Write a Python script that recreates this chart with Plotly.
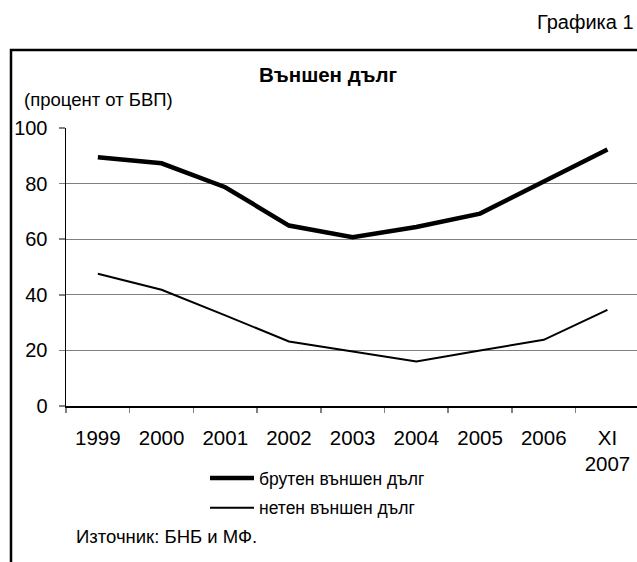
import plotly.graph_objects as go

# ---- data ----
categories = ["1999", "2000", "2001", "2002", "2003", "2004", "2005", "2006", "XI<br>2007"]
gross_debt = [89.5, 87.3, 78.7, 64.9, 60.7, 64.4, 69.2, 80.9, 92.3]
net_debt = [47.6, 41.8, 32.6, 23.2, 19.6, 16.0, 20.0, 23.8, 34.6]
series_names = ["брутен външен дълг", "нетен външен дълг"]
y_ticks = [0, 20, 40, 60, 80, 100]

# ---- layout geometry (pixels) ----
W, H = 637, 562
L, R, T, B = 66, 0, 128, 156
PW, PH = W - L - R, H - T - B
FONT = "Liberation Sans, Arial, sans-serif"


def px_x(px):
    return (px - L) / PW


def px_y(py):
    return (H - B - py) / PH


fig = go.Figure()
fig.add_trace(go.Scatter(x=categories, y=gross_debt, mode="lines", name=series_names[0],
                         legendgroup="g1", line=dict(color="black", width=4.5)))
fig.add_trace(go.Scatter(x=categories, y=net_debt, mode="lines", name=series_names[1],
                         legendgroup="g2", line=dict(color="black", width=2)))

fig.update_layout(
    width=W, height=H,
    margin=dict(l=L, r=R, t=T, b=B, autoexpand=False),
    paper_bgcolor="white", plot_bgcolor="white",
    font=dict(family=FONT, color="black"),
    showlegend=True,
    legend=dict(x=px_x(205), y=px_y(460), xanchor="left", yanchor="top",
                font=dict(size=17.5, family=FONT), bgcolor="rgba(0,0,0,0)",
                itemwidth=44, tracegroupgap=4),
)

fig.update_xaxes(
    type="category", range=[-0.5, 8.464], tickson="boundaries",
    ticks="outside", ticklen=5, tickcolor="#808080", tickwidth=1.5,
    showline=True, linecolor="black", linewidth=2,
    showgrid=False, tickfont=dict(size=20.5, family=FONT),
    ticklabelstandoff=12, fixedrange=True,
)
fig.update_yaxes(
    range=[0, 100], tickvals=y_ticks, ticks="outside", ticklen=6,
    tickcolor="#808080", tickwidth=1.5,
    showline=True, linecolor="black", linewidth=1.5,
    showgrid=True, gridcolor="#808080", gridwidth=1, zeroline=False,
    tickfont=dict(size=20, family=FONT), ticklabelstandoff=7, fixedrange=True,
)

annotations = [
    dict(text="Графика 1", x=px_x(636), y=px_y(22.5), xanchor="right", yanchor="middle",
         font=dict(size=20, family=FONT)),
    dict(text="<b>Външен дълг</b>", x=px_x(328), y=px_y(74), xanchor="center", yanchor="middle",
         font=dict(size=20.5, family=FONT)),
    dict(text="(процент от БВП)", x=px_x(22), y=px_y(100), xanchor="left", yanchor="middle",
         font=dict(size=18.5, family=FONT)),
    dict(text="Източник: БНБ и МФ.", x=px_x(74), y=px_y(536), xanchor="left", yanchor="middle",
         font=dict(size=18.5, family=FONT)),
]
for a in annotations:
    a.update(xref="paper", yref="paper", showarrow=False)
fig.update_layout(annotations=annotations)

# outer frame (extends beyond the right and bottom edges of the page)
fig.add_shape(type="rect", xref="paper", yref="paper",
              x0=px_x(11), x1=px_x(W + 20), y0=px_y(50), y1=px_y(H + 20),
              line=dict(color="black", width=2.5), fillcolor="rgba(0,0,0,0)", layer="above")

fig.write_html("out.html", config={"displayModeBar": False, "staticPlot": True},
               post_script="document.body.style.margin='0';document.body.style.overflow='hidden';")
